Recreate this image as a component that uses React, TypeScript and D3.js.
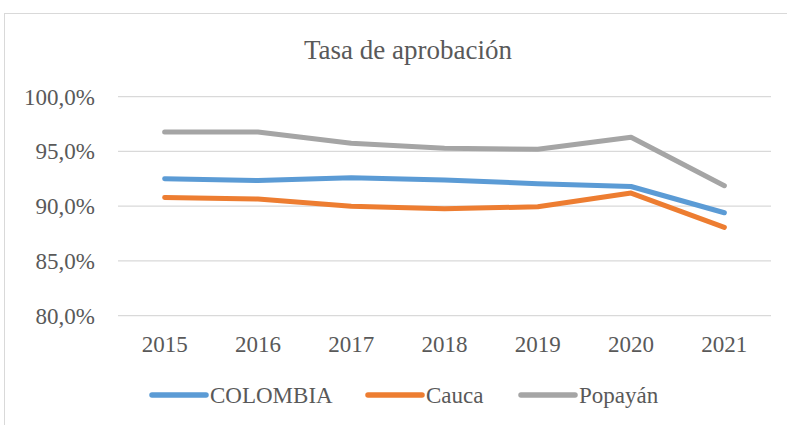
import React, { useRef, useEffect } from 'react';
import * as d3 from 'd3';

const years = ['2015', '2016', '2017', '2018', '2019', '2020', '2021'];
const colombia = [92.5, 92.35, 92.6, 92.4, 92.05, 91.8, 89.4];
const cauca = [90.8, 90.65, 90.0, 89.77, 89.95, 91.2, 88.07];
const popayan = [96.78, 96.78, 95.74, 95.29, 95.2, 96.3, 91.87];
const yTicks = [80, 85, 90, 95, 100];

const series = [
  { name: 'COLOMBIA', values: colombia, color: '#5B9BD5' },
  { name: 'Cauca', values: cauca, color: '#ED7D31' },
  { name: 'Popayán', values: popayan, color: '#A5A5A5' },
];

const App = () => {
  const svgRef = useRef<SVGSVGElement>(null);

  useEffect(() => {
    const width = 787;
    const height = 425;
    const margin = { top: 96.7, right: 16, bottom: 109.3, left: 118 };
    const font = '"Liberation Serif", "Times New Roman", serif';

    const svg = d3.select(svgRef.current)
      .attr('width', width)
      .attr('height', height)
      .style('background', 'white');

    svg.selectAll('*').remove();

    // chart border
    svg.append('rect')
      .attr('x', 4.5)
      .attr('y', 13.5)
      .attr('width', width + 10)
      .attr('height', height + 10)
      .attr('fill', 'white')
      .attr('stroke', '#D9D9D9')
      .attr('stroke-width', 1);

    const xScale = d3.scaleBand().domain(years).range([margin.left, width - margin.right]);
    const yScale = d3.scaleLinear().domain([80, 100]).range([height - margin.bottom, margin.top]);

    // gridlines
    svg.append('g')
      .selectAll('line')
      .data(yTicks)
      .join('line')
      .attr('x1', margin.left)
      .attr('x2', width - margin.right)
      .attr('y1', d => yScale(d))
      .attr('y2', d => yScale(d))
      .attr('stroke', '#D9D9D9')
      .attr('stroke-width', 1.3);

    // y tick labels
    svg.append('g')
      .selectAll('text')
      .data(yTicks)
      .join('text')
      .attr('x', 95)
      .attr('y', d => yScale(d) + 8)
      .attr('text-anchor', 'end')
      .attr('fill', '#595959')
      .style('font-family', font)
      .style('font-size', '23px')
      .text(d => d.toFixed(1).replace('.', ',') + '%');

    // x tick labels
    svg.append('g')
      .selectAll('text')
      .data(years)
      .join('text')
      .attr('x', d => (xScale(d) ?? 0) + xScale.bandwidth() / 2)
      .attr('y', 352)
      .attr('text-anchor', 'middle')
      .attr('fill', '#595959')
      .style('font-family', font)
      .style('font-size', '23px')
      .text(d => d);

    // title
    svg.append('text')
      .attr('x', 408)
      .attr('y', 58.5)
      .attr('text-anchor', 'middle')
      .attr('fill', '#595959')
      .style('font-family', font)
      .style('font-size', '27px')
      .text('Tasa de aprobación');

    const line = d3.line<number>()
      .x((_, i) => (xScale(years[i]) ?? 0) + xScale.bandwidth() / 2)
      .y(d => yScale(d));

    series.forEach(s => {
      svg.append('path')
        .datum(s.values)
        .attr('fill', 'none')
        .attr('stroke', s.color)
        .attr('stroke-width', 5)
        .attr('stroke-linecap', 'round')
        .attr('stroke-linejoin', 'round')
        .attr('d', line);
    });

    // legend
    const legendX = [152, 368, 521];
    series.forEach((s, i) => {
      svg.append('line')
        .attr('x1', legendX[i])
        .attr('x2', legendX[i] + 54)
        .attr('y1', 395)
        .attr('y2', 395)
        .attr('stroke', s.color)
        .attr('stroke-width', 5.5)
        .attr('stroke-linecap', 'round');
      svg.append('text')
        .attr('x', legendX[i] + 58)
        .attr('y', 402.5)
        .attr('fill', '#595959')
        .style('font-family', font)
        .style('font-size', '23px')
        .text(s.name);
    });
  }, []);

  return (
    <div style={{ position: 'absolute', left: 0, top: 0 }}>
      <svg ref={svgRef} style={{ display: 'block' }}></svg>
    </div>
  );
};

export default App;
